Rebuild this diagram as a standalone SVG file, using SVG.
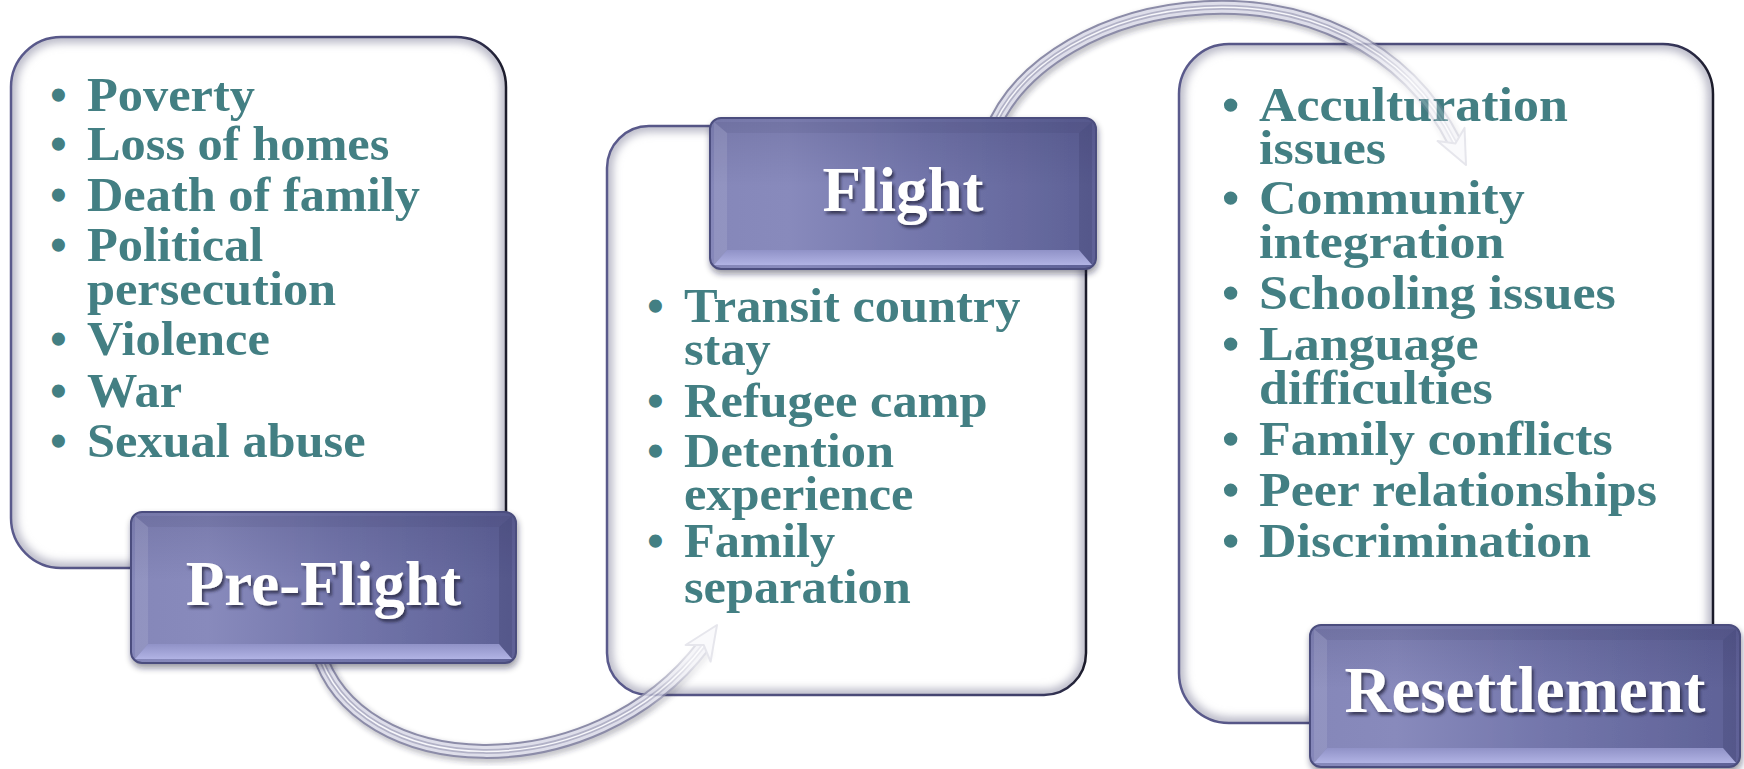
<svg xmlns="http://www.w3.org/2000/svg" xmlns:xlink="http://www.w3.org/1999/xlink" width="1744" height="769" viewBox="0 0 1744 769">
  <defs>
    <style>
      .item{font-family:"Liberation Serif","Times New Roman",serif;font-weight:bold;font-size:48px;fill:#437F83}
      .big .item{font-size:49.5px}
      .title{font-family:"Liberation Serif","Times New Roman",serif;font-weight:bold;font-size:63px;fill:#ffffff;text-anchor:middle;filter:url(#txtShadow)}
      .panel{fill:#ffffff}
      .edge{fill:none;stroke:url(#edgeGrad);stroke-width:2.5}
      .glow{fill:none;stroke:#b9b9c7;stroke-width:12;filter:url(#soft)}
      .btn{fill:url(#faceGrad);stroke:#4c4e7e;stroke-width:2;filter:url(#btnShadow)}
      .shade{fill:url(#topShade)}
      .bev-b{fill:url(#bevBottom)}
      .bev-l{fill:#ffffff;fill-opacity:.10}
      .bev-r{fill:#1a1a46;fill-opacity:.14}
      .bev-t{fill:#24244e;fill-opacity:.08}
      .t0{fill:none;stroke:#2c2c46;stroke-opacity:.28;stroke-width:17;filter:url(#tubeBlur)}
      .t1{fill:none;stroke:#8c8ca8;stroke-width:15}
      .t2{fill:none;stroke:#dedeea;stroke-width:11}
      .t3{fill:none;stroke:#b2b2c7;stroke-width:5}
      .t4{fill:none;stroke:#f7f7fb;stroke-width:1.5}
      .head{fill:#eeeef5;stroke:#a6a6bd;stroke-width:2;stroke-linejoin:round}
    </style>

    <linearGradient id="edgeGrad" x1="0" y1="0" x2="1" y2="0">
      <stop offset="0" stop-color="#5a5a8c"/>
      <stop offset="0.9" stop-color="#3e3e68"/>
      <stop offset="1" stop-color="#1b1b2a"/>
    </linearGradient>
    <linearGradient id="faceGrad" x1="0" y1="0" x2="1" y2="0">
      <stop offset="0" stop-color="#8587b9"/>
      <stop offset="0.2" stop-color="#888abc"/>
      <stop offset="0.55" stop-color="#7376ab"/>
      <stop offset="1" stop-color="#5e6196"/>
    </linearGradient>
    <linearGradient id="topShade" x1="0" y1="0" x2="0" y2="1">
      <stop offset="0" stop-color="#2a2a58" stop-opacity=".16"/>
      <stop offset="0.45" stop-color="#2a2a58" stop-opacity="0"/>
    </linearGradient>
    <linearGradient id="bevBottom" x1="0" y1="0" x2="0" y2="1">
      <stop offset="0" stop-color="#9092c7"/>
      <stop offset="1" stop-color="#b1b3e4"/>
    </linearGradient>

    <filter id="soft" x="-5%" y="-5%" width="110%" height="110%">
      <feGaussianBlur stdDeviation="4"/>
    </filter>
    <filter id="tubeBlur" x="-10%" y="-10%" width="120%" height="120%">
      <feGaussianBlur stdDeviation="2.5"/>
    </filter>
    <filter id="btnShadow" x="-10%" y="-15%" width="120%" height="140%">
      <feDropShadow dx="1" dy="4" stdDeviation="3" flood-color="#1c1c30" flood-opacity=".45"/>
    </filter>
    <filter id="txtShadow" x="-10%" y="-20%" width="120%" height="150%">
      <feDropShadow dx="2" dy="3" stdDeviation="1.5" flood-color="#20203a" flood-opacity=".75"/>
    </filter>

    <clipPath id="clipPre"><rect x="11" y="37" width="495" height="531" rx="50"/></clipPath>
    <clipPath id="clipFlight"><rect x="607" y="126" width="479" height="569" rx="42"/></clipPath>
    <clipPath id="clipResettle"><rect x="1179" y="44" width="534" height="679" rx="50"/></clipPath>

    <!-- connector curves -->
    <path id="c1" d="M 318 650 C 356 780, 592 792, 704 645"/>
    <path id="c2" d="M 990 135 C 1045 -12, 1352 -60, 1455 143"/>

    <!-- fading of the tubes as they cross the panels -->
    <linearGradient id="fadeGrad1" gradientUnits="userSpaceOnUse" x1="640" y1="708" x2="690" y2="660">
      <stop offset="0" stop-color="#ffffff"/>
      <stop offset="1" stop-color="#484848"/>
    </linearGradient>
    <linearGradient id="fadeGrad2" gradientUnits="userSpaceOnUse" x1="1335" y1="38" x2="1400" y2="95">
      <stop offset="0" stop-color="#ffffff"/>
      <stop offset="1" stop-color="#484848"/>
    </linearGradient>
    <mask id="fade1" maskUnits="userSpaceOnUse" x="0" y="0" width="1744" height="769">
      <rect x="0" y="0" width="1744" height="769" fill="url(#fadeGrad1)"/>
    </mask>
    <mask id="fade2" maskUnits="userSpaceOnUse" x="0" y="0" width="1744" height="769">
      <rect x="0" y="0" width="1744" height="769" fill="url(#fadeGrad2)"/>
    </mask>
  </defs>

  <rect x="0" y="0" width="1744" height="769" fill="#ffffff"/>

  <!-- Pre-Flight panel -->
  <g id="pre-flight-panel">
    <rect class="panel" x="11" y="37" width="495" height="531" rx="50"/>
    <g clip-path="url(#clipPre)"><rect class="glow" x="11" y="37" width="495" height="531" rx="50"/></g>
    <rect class="edge" x="11" y="37" width="495" height="531" rx="50"/>
    <g class="item">
      <text class="item" x="50" y="111">•</text>
      <text class="item" x="50" y="160">•</text>
      <text class="item" x="50" y="211">•</text>
      <text class="item" x="50" y="261">•</text>
      <text class="item" x="50" y="355">•</text>
      <text class="item" x="50" y="407">•</text>
      <text class="item" x="50" y="457">•</text>
    </g>
    <!-- list lines, widened slightly for the broad face of the type -->
    <g transform="translate(87 0) scale(1.05 1) translate(-87 0)">
      <text class="item" x="87" y="111">Poverty</text>
      <text class="item" x="87" y="160">Loss of homes</text>
      <text class="item" x="87" y="211">Death of family</text>
      <text class="item" x="87" y="261">Political</text>
      <text class="item" x="87" y="305">persecution</text>
      <text class="item" x="87" y="355">Violence</text>
      <text class="item" x="87" y="407">War</text>
      <text class="item" x="87" y="457">Sexual abuse</text>
    </g>
  </g>

  <!-- Flight panel -->
  <g id="flight-panel">
    <rect class="panel" x="607" y="126" width="479" height="569" rx="42"/>
    <g clip-path="url(#clipFlight)"><rect class="glow" x="607" y="126" width="479" height="569" rx="42"/></g>
    <rect class="edge" x="607" y="126" width="479" height="569" rx="42"/>
    <text class="item" x="647" y="322">•</text>
    <text class="item" x="647" y="417">•</text>
    <text class="item" x="647" y="467">•</text>
    <text class="item" x="647" y="557">•</text>
    <g transform="translate(684 0) scale(1.05 1) translate(-684 0)">
      <text class="item" x="684" y="322">Transit country</text>
      <text class="item" x="684" y="365">stay</text>
      <text class="item" x="684" y="417">Refugee camp</text>
      <text class="item" x="684" y="467">Detention</text>
      <text class="item" x="684" y="510">experience</text>
      <text class="item" x="684" y="557">Family</text>
      <text class="item" x="684" y="603">separation</text>
    </g>
  </g>

  <!-- Resettlement panel -->
  <g id="resettlement-panel" class="big">
    <rect class="panel" x="1179" y="44" width="534" height="679" rx="50"/>
    <g clip-path="url(#clipResettle)"><rect class="glow" x="1179" y="44" width="534" height="679" rx="50"/></g>
    <rect class="edge" x="1179" y="44" width="534" height="679" rx="50"/>
    <text class="item" x="1222" y="121">•</text>
    <text class="item" x="1222" y="214">•</text>
    <text class="item" x="1222" y="309">•</text>
    <text class="item" x="1222" y="360">•</text>
    <text class="item" x="1222" y="455">•</text>
    <text class="item" x="1222" y="506">•</text>
    <text class="item" x="1222" y="557">•</text>
    <g transform="translate(1259 0) scale(1.05 1) translate(-1259 0)">
      <text class="item" x="1259" y="121">Acculturation</text>
      <text class="item" x="1259" y="164">issues</text>
      <text class="item" x="1259" y="214">Community</text>
      <text class="item" x="1259" y="258">integration</text>
      <text class="item" x="1259" y="309">Schooling issues</text>
      <text class="item" x="1259" y="360">Language</text>
      <text class="item" x="1259" y="404">difficulties</text>
      <text class="item" x="1259" y="455">Family conflicts</text>
      <text class="item" x="1259" y="506">Peer relationships</text>
      <text class="item" x="1259" y="557">Discrimination</text>
    </g>
  </g>

  <!-- curved tube arrows between the stages -->
  <g id="connectors">
    <g mask="url(#fade1)">
      <use xlink:href="#c1" class="t0" transform="translate(2 3)"/>
      <use xlink:href="#c1" class="t1"/>
      <use xlink:href="#c1" class="t2"/>
      <use xlink:href="#c1" class="t3"/>
      <use xlink:href="#c1" class="t4"/>
      <polygon class="head" points="717,625 710.6,661.6 703.7,645 685.6,645"/>
    </g>
    <g mask="url(#fade2)">
      <use xlink:href="#c2" class="t0" transform="translate(2 3)"/>
      <use xlink:href="#c2" class="t1"/>
      <use xlink:href="#c2" class="t2"/>
      <use xlink:href="#c2" class="t3"/>
      <use xlink:href="#c2" class="t4"/>
      <polygon class="head" points="1466,165 1437.5,141.1 1455.4,143.5 1464.5,127.9"/>
    </g>
  </g>

  <!-- stage title buttons -->
  <g id="pre-flight-title" transform="translate(131 512)">
    <rect class="btn" width="385" height="151" rx="11"/>
    <rect class="shade" x="1" y="1" width="383" height="149" rx="10"/>
    <polygon class="bev-t" points="4,4 381,4 368,15 17,15"/>
    <polygon class="bev-l" points="4,4 17,15 17,132 4,147"/>
    <polygon class="bev-r" points="381,4 368,15 368,132 381,147"/>
    <polygon class="bev-b" points="4,147 381,147 368,132 17,132"/>
    <text class="title" x="192.5" y="93">Pre-Flight</text>
  </g>

  <g id="flight-title" transform="translate(710 118)">
    <rect class="btn" width="386" height="151" rx="11"/>
    <rect class="shade" x="1" y="1" width="384" height="149" rx="10"/>
    <polygon class="bev-t" points="4,4 382,4 369,15 17,15"/>
    <polygon class="bev-l" points="4,4 17,15 17,132 4,147"/>
    <polygon class="bev-r" points="382,4 369,15 369,132 382,147"/>
    <polygon class="bev-b" points="4,147 382,147 369,132 17,132"/>
    <text class="title" x="193" y="93">Flight</text>
  </g>

  <g id="resettlement-title" transform="translate(1310 625)">
    <rect class="btn" width="430" height="142" rx="11"/>
    <rect class="shade" x="1" y="1" width="428" height="140" rx="10"/>
    <polygon class="bev-t" points="4,4 426,4 413,15 17,15"/>
    <polygon class="bev-l" points="4,4 17,15 17,123 4,138"/>
    <polygon class="bev-r" points="426,4 413,15 413,123 426,138"/>
    <polygon class="bev-b" points="4,138 426,138 413,123 17,123"/>
    <text class="title" x="215" y="87" style="font-size:65px">Resettlement</text>
  </g>
</svg>
